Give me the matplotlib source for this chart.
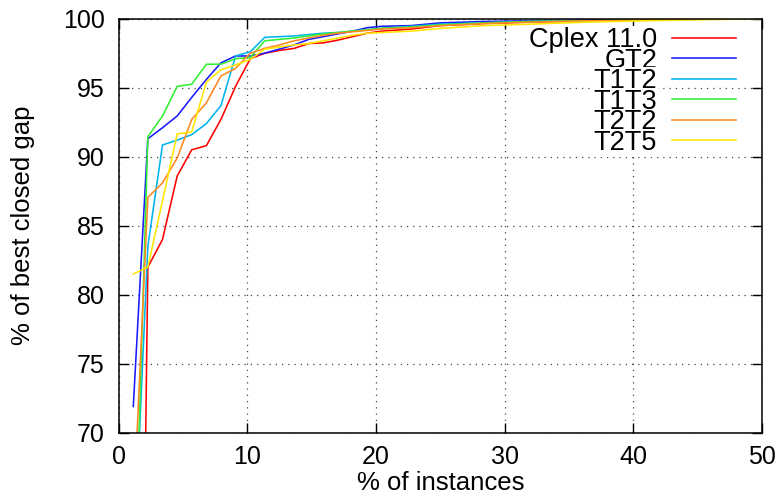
import matplotlib
matplotlib.use("Agg")
import matplotlib.pyplot as plt

x = [1.14, 2.27, 3.41, 4.55, 5.68, 6.82, 7.95, 9.09, 10.23, 11.36, 12.5, 13.64,
     14.77, 15.91, 17.05, 18.18, 19.32, 20.45, 22.73, 25.0, 28.41, 31.82, 36.36,
     40.91, 45.45, 50.0]

cplex = [0.0, 82.0, 84.0, 88.6, 90.5, 90.8, 92.7, 95.1, 97.1, 97.5, 97.7, 97.85,
         98.2, 98.25, 98.45, 98.7, 98.95, 99.1, 99.25, 99.5, 99.65, 99.75, 99.85,
         99.92, 99.97, 100.0]
gt2 = [71.9, 91.3, 92.1, 92.95, 94.3, 95.6, 96.8, 97.3, 97.3, 97.5, 97.8, 98.1,
       98.5, 98.7, 98.9, 99.1, 99.35, 99.45, 99.5, 99.7, 99.8, 99.85, 99.9,
       99.95, 99.98, 100.0]
t1t2 = [60.0, 83.5, 90.85, 91.2, 91.6, 92.4, 93.7, 97.3, 97.6, 98.65, 98.7, 98.75,
        98.85, 98.95, 99.0, 99.1, 99.2, 99.3, 99.45, 99.6, 99.7, 99.8, 99.85,
        99.92, 99.97, 100.0]
t1t3 = [56.0, 91.45, 92.95, 95.1, 95.25, 96.7, 96.7, 97.1, 97.2, 98.4, 98.5, 98.6,
        98.75, 98.9, 99.0, 99.1, 99.2, 99.3, 99.4, 99.55, 99.7, 99.8, 99.85,
        99.92, 99.97, 100.0]
t2t2 = [64.0, 87.05, 88.1, 89.9, 92.7, 93.9, 95.85, 96.4, 97.5, 97.85, 98.1, 98.4,
        98.6, 98.8, 98.95, 99.05, 99.15, 99.25, 99.35, 99.5, 99.65, 99.75, 99.85,
        99.92, 99.97, 100.0]
t2t5 = [81.5, 82.0, 86.8, 91.65, 91.8, 95.4, 96.3, 96.65, 97.05, 97.8, 97.95, 98.1,
        98.2, 98.4, 98.6, 98.8, 98.95, 99.0, 99.1, 99.3, 99.5, 99.6, 99.75,
        99.85, 99.93, 100.0]

labels = ["Cplex 11.0", "GT2", "T1T2", "T1T3", "T2T2", "T2T5"]
colors = ["#ff0000", "#1a1aff", "#00b4ee", "#33ee33", "#ff8822", "#ffe600"]
series = [cplex, gt2, t1t2, t1t3, t2t2, t2t5]

xticks = [0, 10, 20, 30, 40, 50]
yticks = [70, 75, 80, 85, 90, 95, 100]

plt.rcParams['font.family'] = ['Liberation Sans', 'DejaVu Sans']
FS = 18
LFS = 19.5

fig = plt.figure(figsize=(7.82, 4.95), dpi=100)
ax = fig.add_axes([0.1517, 0.1259, 0.8227, 0.8363])

for ys, lab, c in zip(series, labels, colors):
    ax.plot(x, ys, color=c, lw=1.15, label=lab)

ax.set_xlim(0, 50)
ax.set_ylim(70, 100)
ax.set_xticks(xticks)
ax.set_yticks(yticks)
ax.tick_params(axis='both', which='both', direction='in', length=7, width=1.0,
               top=True, right=True, labelsize=FS)
ax.tick_params(axis='x', pad=9)
ax.tick_params(axis='y', pad=10)
for s in ax.spines.values():
    s.set_linewidth(1.1)
ax.grid(True, linestyle=(0, (1, 4)), color='#444444', linewidth=0.9)

ax.set_xlabel("% of instances", fontsize=FS + 0.5, labelpad=1)
ax.set_ylabel("% of best closed gap", fontsize=FS + 0.5, labelpad=20)

leg = ax.legend(loc='upper right', bbox_to_anchor=(0.9596, 0.98), frameon=False,
                markerfirst=False, fontsize=LFS, handlelength=2.36,
                handletextpad=0.55, labelspacing=-0.2, borderaxespad=0.0,
                borderpad=0.0)
for t in leg.get_texts():
    t.set_bbox(dict(facecolor='white', edgecolor='none', pad=0.5))
    t.set_ha('right')

fig.savefig("out.png", dpi=100)
